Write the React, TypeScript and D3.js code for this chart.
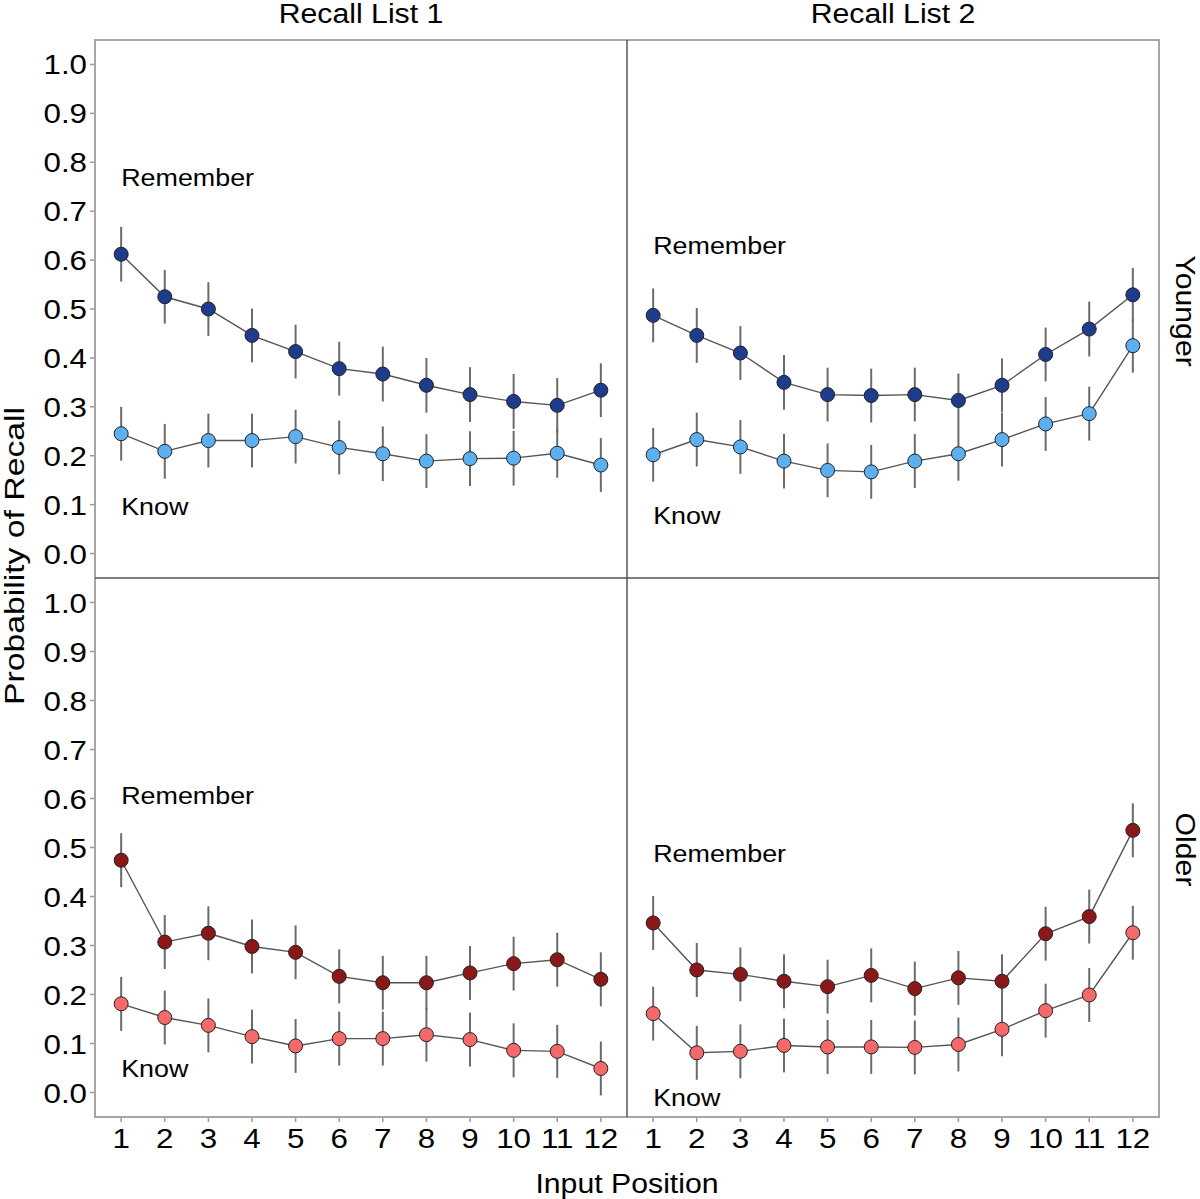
import React from "react";
import * as d3 from "d3";

const positions = [1, 2, 3, 4, 5, 6, 7, 8, 9, 10, 11, 12];
const yTicks = [0, 0.1, 0.2, 0.3, 0.4, 0.5, 0.6, 0.7, 0.8, 0.9, 1.0];
const listLabels = ["Recall List 1", "Recall List 2"];
const groupLabels = ["Younger", "Older"];

// Younger, List 1
const youngL1Remember = [0.612, 0.525, 0.5, 0.446, 0.413, 0.378, 0.367, 0.344, 0.325, 0.311, 0.303, 0.334];
const youngL1RememberErr = [0.056, 0.055, 0.055, 0.055, 0.055, 0.055, 0.056, 0.056, 0.056, 0.056, 0.056, 0.055];
const youngL1Know = [0.245, 0.209, 0.231, 0.231, 0.239, 0.217, 0.204, 0.189, 0.194, 0.195, 0.205, 0.181];
const youngL1KnowErr = [0.055, 0.056, 0.055, 0.055, 0.055, 0.055, 0.056, 0.055, 0.056, 0.056, 0.05, 0.055];
// Younger, List 2
const youngL2Remember = [0.487, 0.446, 0.41, 0.35, 0.325, 0.323, 0.325, 0.313, 0.344, 0.407, 0.459, 0.529];
const youngL2RememberErr = [0.055, 0.056, 0.055, 0.056, 0.055, 0.055, 0.055, 0.055, 0.055, 0.055, 0.056, 0.055];
const youngL2Know = [0.202, 0.233, 0.218, 0.189, 0.17, 0.167, 0.189, 0.204, 0.233, 0.265, 0.286, 0.425];
const youngL2KnowErr = [0.055, 0.055, 0.055, 0.056, 0.055, 0.055, 0.055, 0.055, 0.055, 0.055, 0.055, 0.055];
// Older, List 1
const oldL1Remember = [0.474, 0.307, 0.325, 0.298, 0.286, 0.237, 0.224, 0.224, 0.244, 0.263, 0.271, 0.231];
const oldL1RememberErr = [0.055, 0.055, 0.055, 0.055, 0.055, 0.055, 0.055, 0.055, 0.055, 0.055, 0.055, 0.055];
const oldL1Know = [0.181, 0.153, 0.137, 0.114, 0.095, 0.11, 0.11, 0.118, 0.108, 0.086, 0.084, 0.049];
const oldL1KnowErr = [0.055, 0.055, 0.055, 0.055, 0.055, 0.055, 0.055, 0.055, 0.055, 0.055, 0.054, 0.055];
// Older, List 2
const oldL2Remember = [0.346, 0.25, 0.241, 0.227, 0.216, 0.239, 0.212, 0.234, 0.227, 0.324, 0.359, 0.535];
const oldL2RememberErr = [0.055, 0.055, 0.055, 0.055, 0.055, 0.055, 0.055, 0.055, 0.055, 0.055, 0.055, 0.055];
const oldL2Know = [0.161, 0.081, 0.084, 0.096, 0.093, 0.093, 0.092, 0.098, 0.129, 0.167, 0.199, 0.326];
const oldL2KnowErr = [0.055, 0.055, 0.055, 0.055, 0.055, 0.055, 0.055, 0.055, 0.055, 0.055, 0.055, 0.055];

// label anchor values (y, in data units) for "Remember"/"Know" annotations per panel
const rememberLabelY = [0.769, 0.63, 0.608, 0.488];
const knowLabelY = [0.098, 0.078, 0.049, -0.01];

const colors = {
  youngRemember: "#1f3c8c",
  youngKnow: "#5cb0f0",
  oldRemember: "#8a1818",
  oldKnow: "#f46a6a",
};

const FONT = "'Liberation Sans', Arial, sans-serif";
const SX = 1.12;

function Txt({ x, y, size, anchor = "start", rotate = 0, sx = SX, children }: any) {
  return (
    <text
      transform={`translate(${x},${y}) rotate(${rotate}) scale(${sx},1)`}
      fontSize={size}
      fontFamily={FONT}
      textAnchor={anchor}
      fill="#000"
    >
      {children}
    </text>
  );
}

const L = 95, R = 1159, T = 40, B = 1117, MX = 627, MY = 578;

export default function App() {
  const panels = [
    { row: 0, col: 0, rem: youngL1Remember, remE: youngL1RememberErr, know: youngL1Know, knowE: youngL1KnowErr, cR: colors.youngRemember, cK: colors.youngKnow },
    { row: 0, col: 1, rem: youngL2Remember, remE: youngL2RememberErr, know: youngL2Know, knowE: youngL2KnowErr, cR: colors.youngRemember, cK: colors.youngKnow },
    { row: 1, col: 0, rem: oldL1Remember, remE: oldL1RememberErr, know: oldL1Know, knowE: oldL1KnowErr, cR: colors.oldRemember, cK: colors.oldKnow },
    { row: 1, col: 1, rem: oldL2Remember, remE: oldL2RememberErr, know: oldL2Know, knowE: oldL2KnowErr, cR: colors.oldRemember, cK: colors.oldKnow },
  ];
  const colX = [[L, MX], [MX, R]];
  const rowY = [[T, MY], [MY, B]];

  return (
    <svg width={1200} height={1199} style={{ position: "absolute", left: 0, top: 0, background: "#fff" }}>
      <rect x={0} y={0} width={1200} height={1199} fill="#fff" />
      {panels.map((p, i) => {
        const x = d3.scaleLinear().domain([0.4, 12.6]).range(colX[p.col]);
        const y = d3.scaleLinear().domain([-0.05, 1.05]).range([rowY[p.row][1], rowY[p.row][0]]);
        const line = d3.line<number>().x((_, j) => x(positions[j])).y((v) => y(v));
        const series = [
          { vals: p.know, err: p.knowE, color: p.cK },
          { vals: p.rem, err: p.remE, color: p.cR },
        ];
        return (
          <g key={i}>
            {series.map((s, si) => (
              <g key={"e" + si}>
                {s.vals.map((v, j) => (
                  <line key={j} x1={x(positions[j])} x2={x(positions[j])} y1={y(v - s.err[j])} y2={y(v + s.err[j])} stroke="#6b6b6b" strokeWidth={2} />
                ))}
              </g>
            ))}
            {series.map((s, si) => (
              <path key={"l" + si} d={line(s.vals) || ""} fill="none" stroke="#555" strokeWidth={1.4} />
            ))}
            {series.map((s, si) => (
              <g key={"p" + si}>
                {s.vals.map((v, j) => (
                  <circle key={j} cx={x(positions[j])} cy={y(v)} r={7} fill={s.color} stroke="#222" strokeWidth={1} />
                ))}
              </g>
            ))}
            <Txt x={x(1)} y={y(rememberLabelY[i]) + 9} size={24}>Remember</Txt>
            <Txt x={x(1)} y={y(knowLabelY[i]) + 9} size={24}>Know</Txt>
            {p.col === 0 &&
              yTicks.map((t) => (
                <g key={t}>
                  <line x1={L - 5} x2={L} y1={y(t)} y2={y(t)} stroke="#999" strokeWidth={1.5} />
                  <Txt x={87} y={y(t) + 10} size={27} anchor="end" sx={1.16}>{d3.format(".1f")(t)}</Txt>
                </g>
              ))}
            {p.row === 1 &&
              positions.map((t) => (
                <g key={t}>
                  <line x1={x(t)} x2={x(t)} y1={B} y2={B + 5} stroke="#999" strokeWidth={1.5} />
                  <Txt x={x(t)} y={1148} size={27} anchor="middle" sx={1.16}>{t}</Txt>
                </g>
              ))}
          </g>
        );
      })}
      <rect x={L} y={T} width={R - L} height={B - T} fill="none" stroke="#a6a6a6" strokeWidth={2} />
      <line x1={MX} x2={MX} y1={T} y2={B} stroke="#555" strokeWidth={1.5} />
      <line x1={L} x2={R} y1={MY} y2={MY} stroke="#555" strokeWidth={1.5} />
      <Txt x={(L + MX) / 2} y={23} size={27} anchor="middle">{listLabels[0]}</Txt>
      <Txt x={(MX + R) / 2} y={23} size={27} anchor="middle">{listLabels[1]}</Txt>
      <Txt x={1176} y={(T + MY) / 2 + 2} size={27} anchor="middle" rotate={90}>{groupLabels[0]}</Txt>
      <Txt x={1176} y={(MY + B) / 2 + 2} size={27} anchor="middle" rotate={90}>{groupLabels[1]}</Txt>
      <Txt x={24} y={556} size={27} anchor="middle" rotate={-90} sx={1.25}>Probability of Recall</Txt>
      <Txt x={(L + R) / 2} y={1193} size={27} anchor="middle">Input Position</Txt>
    </svg>
  );
}
